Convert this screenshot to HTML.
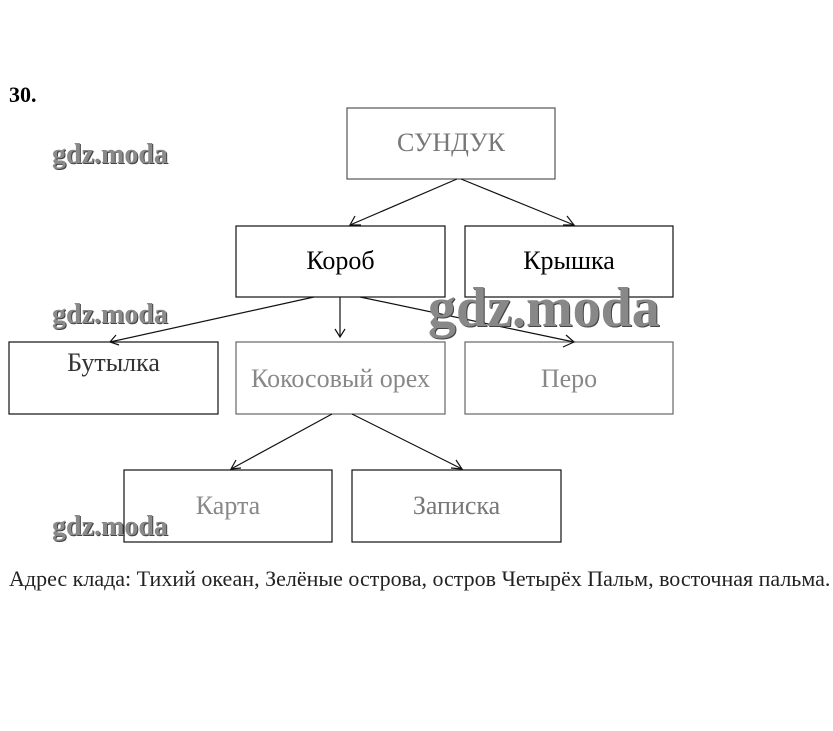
<!DOCTYPE html>
<html><head><meta charset="utf-8"><style>
body{margin:0;background:#fff;width:833px;height:731px;overflow:hidden;position:relative;font-family:"Liberation Serif",serif;}
.t{position:absolute;white-space:nowrap;}
.wm{position:absolute;font-family:"Liberation Serif",serif;font-weight:bold;color:#8a8a8a;white-space:nowrap;text-shadow:1px 1px 0 #444;}
</style></head><body>
<svg width="833" height="731" style="position:absolute;left:0;top:0">
<g fill="none" stroke="#111" stroke-width="1.2">
<rect x="347" y="108" width="208" height="71" stroke="#555"/>
<rect x="236" y="226" width="209" height="71"/>
<rect x="465" y="226" width="208" height="71"/>
<rect x="9" y="342" width="209" height="72"/>
<rect x="236" y="342" width="209" height="72" stroke="#666"/>
<rect x="465" y="342" width="208" height="72" stroke="#666"/>
<rect x="124" y="470" width="208" height="72"/>
<rect x="352" y="470" width="209" height="72"/>
<line x1="457" y1="179" x2="350" y2="225"/><polyline points="355,216 350,225 361,225"/>
<line x1="461" y1="179" x2="574" y2="225"/><polyline points="563,225 574,225 567,216"/>
<line x1="314" y1="297" x2="110" y2="342"/><polyline points="116,335 110,342 119,345"/>
<line x1="340" y1="297" x2="340" y2="337"/><polyline points="335,329 340,337 345,329"/>
<line x1="360" y1="297" x2="574" y2="342"/><polyline points="563,347 574,342 566,335"/>
<line x1="332" y1="414" x2="231" y2="469"/><polyline points="236,460 231,469 241,468"/>
<line x1="352" y1="414" x2="462" y2="469"/><polyline points="451,468 462,469 456,460"/>
</g></svg>
<div class="t" style="left:9px;top:82px;font-size:22px;font-weight:bold">30.</div>
<div class="t" style="left:347px;top:128px;width:208px;text-align:center;font-size:26px;color:#777">СУНДУК</div>
<div class="t" style="left:236px;top:246px;width:209px;text-align:center;font-size:26px">Короб</div>
<div class="t" style="left:465px;top:246px;width:208px;text-align:center;font-size:26px">Крышка</div>
<div class="t" style="left:9px;top:348px;width:209px;text-align:center;font-size:26px;color:#333">Бутылка</div>
<div class="t" style="left:236px;top:364px;width:209px;text-align:center;font-size:26px;color:#888">Кокосовый орех</div>
<div class="t" style="left:465px;top:364px;width:208px;text-align:center;font-size:26px;color:#888">Перо</div>
<div class="t" style="left:124px;top:491px;width:208px;text-align:center;font-size:26px;color:#888">Карта</div>
<div class="t" style="left:352px;top:491px;width:209px;text-align:center;font-size:26px;color:#777">Записка</div>
<div class="t" style="left:9px;top:566px;font-size:22px;color:#222">Адрес клада: Тихий океан, Зелёные острова, остров Четырёх Пальм, восточная пальма.</div>
<div class="wm" style="left:52px;top:139px;font-size:28px">gdz.moda</div>
<div class="wm" style="left:52px;top:299px;font-size:28px">gdz.moda</div>
<div class="wm" style="left:52px;top:511px;font-size:28px">gdz.moda</div>
<div class="wm" style="left:428px;top:276px;font-size:56px;color:#888">gdz.moda</div>
</body></html>
